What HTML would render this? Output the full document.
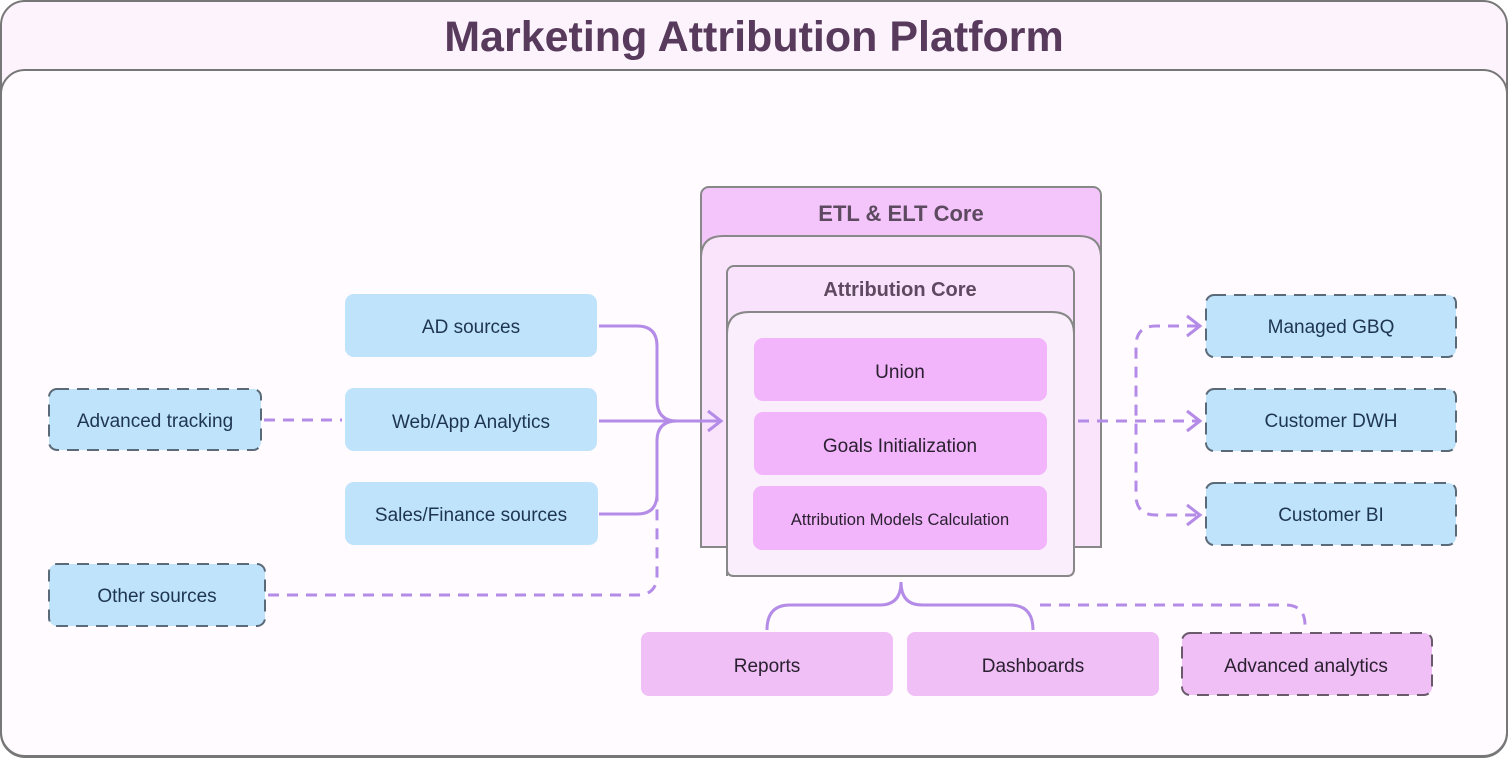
<!DOCTYPE html>
<html><head><meta charset="utf-8"><style>
body{margin:0;background:#fff;}
svg text{font-family:"Liberation Sans",sans-serif;}
</style></head><body>
<svg width="1508" height="758" viewBox="0 0 1508 758" xmlns="http://www.w3.org/2000/svg">
<rect x="1" y="1" width="1506" height="756" rx="24" fill="#fdf3fc"/>
<rect x="1" y="70" width="1506" height="686" rx="24" fill="#fffbfe" stroke="#777" stroke-width="2"/>
<rect x="1" y="1" width="1506" height="756" rx="24" fill="none" stroke="#777" stroke-width="2"/>
<text x="754" y="51" font-size="43" font-weight="bold" fill="#573a5c" text-anchor="middle">Marketing Attribution Platform</text>

<!-- ETL -->
<rect x="701" y="187" width="400" height="360" rx="8" fill="#f3c5fb" stroke="#888" stroke-width="2"/>
<path d="M701 547 L701 258 Q701 236 723 236 L1079 236 Q1101 236 1101 258 L1101 547 Z" fill="#f9e4fc" stroke="#888" stroke-width="2"/>
<text x="901" y="221" font-size="22" font-weight="bold" fill="#5e4a60" text-anchor="middle">ETL &amp; ELT Core</text>
<rect x="727" y="266" width="347" height="310" rx="7" fill="#f9e3fc" stroke="#888" stroke-width="2"/>
<text x="900" y="296" font-size="20" font-weight="bold" fill="#5e4a60" text-anchor="middle">Attribution Core</text>
<path d="M727 576 L727 334 Q727 312 749 312 L1052 312 Q1074 312 1074 334 L1074 569 Q1074 576 1067 576 L734 576 Q727 576 727 569Z" fill="#fbeefc" stroke="#888" stroke-width="2"/>
<rect x="754" y="338" width="293" height="63" rx="9" fill="#f2b4fb"/>
<rect x="754" y="412" width="293" height="63" rx="9" fill="#f2b4fb"/>
<rect x="753" y="486" width="294" height="64" rx="9" fill="#f2b4fb"/>
<g font-size="19" fill="#2a2030" text-anchor="middle">
<text x="900" y="378">Union</text>
<text x="900" y="452">Goals Initialization</text>
<text x="900" y="525" font-size="16.5">Attribution Models Calculation</text>
</g>

<!-- connectors -->
<g fill="none" stroke="#b48ce8" stroke-width="3">
<path d="M599 326 L637 326 Q657 326 657 346 L657 400 Q657 421 677 421"/>
<path d="M599 421 L720 421"/>
<path d="M599 514 L637 514 Q657 514 657 494 L657 441 Q657 421 677 421"/>
<path d="M708 411 L721 421 L708 431"/>
<path d="M767 630 Q767 605 790 605 L880 605 Q901 605 901 582 Q901 605 922 605 L1010 605 Q1033 605 1033 630"/>
<g stroke-dasharray="11 8">
<path d="M264 420 L342 420"/>
<path d="M268 595 L637 595 Q657 595 657 575 L657 470"/>
<path d="M1078 421 L1198 421"/>
<path d="M1198 326 L1156 326 Q1136 326 1136 346 L1136 495 Q1136 515 1156 515 L1198 515"/>
<path d="M1040 605 L1285 605 Q1305 605 1305 625 L1305 632"/>
</g>
<path d="M1187 316 L1200 326 L1187 336"/>
<path d="M1187 411 L1200 421 L1187 431"/>
<path d="M1187 505 L1200 515 L1187 525"/>
</g>

<!-- left boxes -->
<g fill="#bfe3fb">
<rect x="345" y="294" width="252" height="63" rx="9"/>
<rect x="345" y="388" width="252" height="63" rx="9"/>
<rect x="345" y="482" width="253" height="63" rx="9"/>
</g>
<g fill="#bfe3fb" stroke="#5a6a78" stroke-width="2" stroke-dasharray="12 8">
<rect x="49" y="389" width="212" height="61" rx="8"/>
<rect x="49" y="564" width="216" height="62" rx="8"/>
<rect x="1206" y="295" width="250" height="62" rx="8"/>
<rect x="1206" y="389" width="250" height="62" rx="8"/>
<rect x="1206" y="483" width="250" height="62" rx="8"/>
</g>
<g font-size="19" fill="#1e3552" text-anchor="middle">
<text x="471" y="333">AD sources</text>
<text x="471" y="428">Web/App Analytics</text>
<text x="471" y="521">Sales/Finance sources</text>
<text x="155" y="427">Advanced tracking</text>
<text x="157" y="602">Other sources</text>
<text x="1331" y="333">Managed GBQ</text>
<text x="1331" y="427">Customer DWH</text>
<text x="1331" y="521">Customer BI</text>
</g>

<!-- bottom -->
<rect x="641" y="632" width="252" height="64" rx="8" fill="#efbff6"/>
<rect x="907" y="632" width="252" height="64" rx="8" fill="#efbff6"/>
<rect x="1182" y="633" width="250" height="62" rx="8" fill="#efbff6" stroke="#6a5a6c" stroke-width="2" stroke-dasharray="12 8"/>
<g font-size="19" fill="#2a2030" text-anchor="middle">
<text x="767" y="672">Reports</text>
<text x="1033" y="672">Dashboards</text>
<text x="1306" y="672">Advanced analytics</text>
</g>
</svg>
</body></html>
